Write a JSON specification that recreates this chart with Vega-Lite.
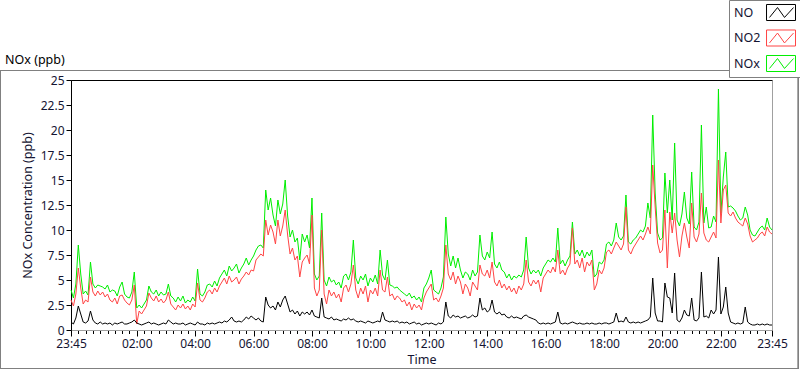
{
"$schema":"https://vega.github.io/schema/vega-lite/v6.json",
"width":701,"height":250,
"autosize":{"type":"none"},
"padding":{"left":71,"top":80,"right":29,"bottom":39},
"background":"white",
"config":{"font":"Noto Sans","view":{"stroke":"black","strokeWidth":1}},
"title":{"text":"NOx (ppb)","anchor":"start","frame":"group","orient":"top","dx":-66,"offset":-67,"fontSize":12.5,"fontWeight":"normal","color":"black"},
"data":{"values":[
{"t":"2024-01-01T23:45","NO":0.8,"NO2":3.0,"NOx":4.0},
{"t":"2024-01-01T23:50","NO":0.6,"NO2":2.4,"NOx":3.2},
{"t":"2024-01-01T23:55","NO":1.2,"NO2":3.6,"NOx":4.6},
{"t":"2024-01-02T00:00","NO":2.4,"NO2":6.2,"NOx":8.5},
{"t":"2024-01-02T00:05","NO":1.6,"NO2":4.2,"NOx":5.6},
{"t":"2024-01-02T00:10","NO":0.8,"NO2":2.6,"NOx":3.6},
{"t":"2024-01-02T00:15","NO":0.7,"NO2":3.0,"NOx":3.9},
{"t":"2024-01-02T00:20","NO":0.9,"NO2":2.8,"NOx":3.5},
{"t":"2024-01-02T00:25","NO":1.9,"NO2":5.3,"NOx":6.8},
{"t":"2024-01-02T00:30","NO":1.0,"NO2":3.8,"NOx":4.6},
{"t":"2024-01-02T00:35","NO":0.7,"NO2":3.4,"NOx":4.2},
{"t":"2024-01-02T00:40","NO":0.6,"NO2":3.9,"NOx":4.5},
{"t":"2024-01-02T00:45","NO":0.8,"NO2":3.5,"NOx":4.4},
{"t":"2024-01-02T00:50","NO":0.6,"NO2":3.8,"NOx":4.3},
{"t":"2024-01-02T00:55","NO":0.7,"NO2":3.3,"NOx":4.1},
{"t":"2024-01-02T01:00","NO":0.6,"NO2":3.6,"NOx":4.5},
{"t":"2024-01-02T01:05","NO":0.7,"NO2":3.0,"NOx":3.8},
{"t":"2024-01-02T01:10","NO":0.5,"NO2":2.8,"NOx":4.0},
{"t":"2024-01-02T01:15","NO":0.7,"NO2":3.2,"NOx":3.9},
{"t":"2024-01-02T01:20","NO":0.6,"NO2":2.6,"NOx":3.4},
{"t":"2024-01-02T01:25","NO":0.7,"NO2":3.4,"NOx":4.3},
{"t":"2024-01-02T01:30","NO":0.8,"NO2":3.5,"NOx":4.8},
{"t":"2024-01-02T01:35","NO":0.6,"NO2":3.0,"NOx":3.6},
{"t":"2024-01-02T01:40","NO":0.6,"NO2":2.7,"NOx":3.3},
{"t":"2024-01-02T01:45","NO":0.7,"NO2":2.5,"NOx":3.2},
{"t":"2024-01-02T01:50","NO":0.8,"NO2":3.0,"NOx":3.8},
{"t":"2024-01-02T01:55","NO":1.0,"NO2":4.5,"NOx":5.8},
{"t":"2024-01-02T02:00","NO":0.7,"NO2":0.6,"NOx":2.2},
{"t":"2024-01-02T02:05","NO":0.6,"NO2":1.9,"NOx":2.5},
{"t":"2024-01-02T02:10","NO":0.5,"NO2":1.6,"NOx":2.2},
{"t":"2024-01-02T02:15","NO":0.6,"NO2":2.0,"NOx":2.6},
{"t":"2024-01-02T02:20","NO":0.7,"NO2":2.4,"NOx":3.0},
{"t":"2024-01-02T02:25","NO":0.8,"NO2":3.7,"NOx":4.4},
{"t":"2024-01-02T02:30","NO":0.6,"NO2":3.2,"NOx":3.8},
{"t":"2024-01-02T02:35","NO":0.7,"NO2":2.9,"NOx":3.6},
{"t":"2024-01-02T02:40","NO":0.6,"NO2":3.4,"NOx":4.0},
{"t":"2024-01-02T02:45","NO":0.5,"NO2":2.8,"NOx":3.4},
{"t":"2024-01-02T02:50","NO":0.6,"NO2":3.1,"NOx":3.8},
{"t":"2024-01-02T02:55","NO":0.7,"NO2":2.7,"NOx":3.5},
{"t":"2024-01-02T03:00","NO":0.6,"NO2":3.0,"NOx":3.6},
{"t":"2024-01-02T03:05","NO":1.0,"NO2":3.8,"NOx":4.6},
{"t":"2024-01-02T03:10","NO":0.8,"NO2":2.6,"NOx":3.4},
{"t":"2024-01-02T03:15","NO":0.6,"NO2":2.3,"NOx":3.2},
{"t":"2024-01-02T03:20","NO":0.7,"NO2":2.0,"NOx":2.8},
{"t":"2024-01-02T03:25","NO":0.6,"NO2":2.5,"NOx":3.3},
{"t":"2024-01-02T03:30","NO":0.6,"NO2":2.2,"NOx":2.9},
{"t":"2024-01-02T03:35","NO":0.7,"NO2":2.6,"NOx":3.4},
{"t":"2024-01-02T03:40","NO":0.5,"NO2":2.1,"NOx":2.7},
{"t":"2024-01-02T03:45","NO":0.6,"NO2":2.4,"NOx":3.0},
{"t":"2024-01-02T03:50","NO":0.7,"NO2":2.0,"NOx":2.8},
{"t":"2024-01-02T03:55","NO":0.6,"NO2":2.6,"NOx":3.3},
{"t":"2024-01-02T04:00","NO":0.5,"NO2":2.3,"NOx":2.9},
{"t":"2024-01-02T04:05","NO":0.8,"NO2":4.7,"NOx":6.1},
{"t":"2024-01-02T04:10","NO":0.6,"NO2":3.0,"NOx":3.6},
{"t":"2024-01-02T04:15","NO":0.6,"NO2":2.8,"NOx":3.4},
{"t":"2024-01-02T04:20","NO":0.5,"NO2":3.2,"NOx":3.8},
{"t":"2024-01-02T04:25","NO":0.7,"NO2":3.8,"NOx":4.5},
{"t":"2024-01-02T04:30","NO":0.6,"NO2":4.0,"NOx":4.6},
{"t":"2024-01-02T04:35","NO":0.7,"NO2":3.6,"NOx":4.3},
{"t":"2024-01-02T04:40","NO":0.6,"NO2":4.2,"NOx":4.9},
{"t":"2024-01-02T04:45","NO":0.7,"NO2":3.8,"NOx":4.4},
{"t":"2024-01-02T04:50","NO":0.8,"NO2":4.4,"NOx":5.2},
{"t":"2024-01-02T04:55","NO":0.7,"NO2":4.8,"NOx":5.6},
{"t":"2024-01-02T05:00","NO":0.9,"NO2":5.2,"NOx":6.0},
{"t":"2024-01-02T05:05","NO":0.8,"NO2":4.6,"NOx":5.4},
{"t":"2024-01-02T05:10","NO":1.0,"NO2":5.4,"NOx":6.4},
{"t":"2024-01-02T05:15","NO":1.3,"NO2":4.8,"NOx":5.9},
{"t":"2024-01-02T05:20","NO":0.9,"NO2":5.0,"NOx":6.2},
{"t":"2024-01-02T05:25","NO":0.8,"NO2":5.3,"NOx":6.6},
{"t":"2024-01-02T05:30","NO":0.9,"NO2":4.6,"NOx":5.7},
{"t":"2024-01-02T05:35","NO":0.8,"NO2":5.1,"NOx":6.2},
{"t":"2024-01-02T05:40","NO":1.0,"NO2":5.4,"NOx":6.6},
{"t":"2024-01-02T05:45","NO":1.3,"NO2":5.8,"NOx":7.2},
{"t":"2024-01-02T05:50","NO":1.1,"NO2":5.5,"NOx":6.5},
{"t":"2024-01-02T05:55","NO":1.4,"NO2":6.0,"NOx":7.0},
{"t":"2024-01-02T06:00","NO":1.2,"NO2":5.9,"NOx":7.4},
{"t":"2024-01-02T06:05","NO":1.0,"NO2":7.0,"NOx":8.0},
{"t":"2024-01-02T06:10","NO":1.2,"NO2":7.3,"NOx":8.4},
{"t":"2024-01-02T06:15","NO":0.9,"NO2":7.6,"NOx":8.5},
{"t":"2024-01-02T06:20","NO":0.8,"NO2":7.4,"NOx":8.2},
{"t":"2024-01-02T06:25","NO":3.3,"NO2":11.0,"NOx":14.0},
{"t":"2024-01-02T06:30","NO":2.5,"NO2":9.5,"NOx":12.0},
{"t":"2024-01-02T06:35","NO":2.2,"NO2":10.5,"NOx":13.2},
{"t":"2024-01-02T06:40","NO":2.4,"NO2":9.8,"NOx":11.5},
{"t":"2024-01-02T06:45","NO":2.0,"NO2":8.6,"NOx":10.4},
{"t":"2024-01-02T06:50","NO":2.8,"NO2":11.0,"NOx":13.0},
{"t":"2024-01-02T06:55","NO":2.3,"NO2":9.4,"NOx":11.6},
{"t":"2024-01-02T07:00","NO":3.0,"NO2":10.4,"NOx":12.6},
{"t":"2024-01-02T07:05","NO":3.4,"NO2":12.0,"NOx":15.0},
{"t":"2024-01-02T07:10","NO":2.6,"NO2":9.5,"NOx":11.4},
{"t":"2024-01-02T07:15","NO":1.8,"NO2":7.6,"NOx":9.3},
{"t":"2024-01-02T07:20","NO":2.0,"NO2":8.2,"NOx":10.0},
{"t":"2024-01-02T07:25","NO":1.6,"NO2":7.0,"NOx":8.8},
{"t":"2024-01-02T07:30","NO":1.9,"NO2":7.4,"NOx":9.2},
{"t":"2024-01-02T07:35","NO":1.4,"NO2":5.3,"NOx":7.0},
{"t":"2024-01-02T07:40","NO":1.8,"NO2":6.8,"NOx":9.6},
{"t":"2024-01-02T07:45","NO":1.6,"NO2":7.2,"NOx":8.8},
{"t":"2024-01-02T07:50","NO":1.8,"NO2":7.5,"NOx":9.5},
{"t":"2024-01-02T07:55","NO":1.5,"NO2":6.6,"NOx":8.2},
{"t":"2024-01-02T08:00","NO":2.0,"NO2":11.5,"NOx":13.2},
{"t":"2024-01-02T08:05","NO":1.4,"NO2":4.2,"NOx":5.6},
{"t":"2024-01-02T08:10","NO":1.3,"NO2":3.4,"NOx":5.0},
{"t":"2024-01-02T08:15","NO":1.2,"NO2":4.0,"NOx":5.4},
{"t":"2024-01-02T08:20","NO":3.2,"NO2":10.0,"NOx":11.7},
{"t":"2024-01-02T08:25","NO":1.3,"NO2":3.6,"NOx":5.0},
{"t":"2024-01-02T08:30","NO":1.2,"NO2":2.6,"NOx":4.4},
{"t":"2024-01-02T08:35","NO":1.1,"NO2":4.0,"NOx":5.3},
{"t":"2024-01-02T08:40","NO":1.3,"NO2":3.4,"NOx":4.8},
{"t":"2024-01-02T08:45","NO":1.0,"NO2":3.8,"NOx":5.0},
{"t":"2024-01-02T08:50","NO":1.1,"NO2":3.2,"NOx":4.5},
{"t":"2024-01-02T08:55","NO":1.0,"NO2":3.6,"NOx":4.8},
{"t":"2024-01-02T09:00","NO":0.9,"NO2":2.8,"NOx":4.2},
{"t":"2024-01-02T09:05","NO":1.1,"NO2":4.2,"NOx":5.4},
{"t":"2024-01-02T09:10","NO":1.0,"NO2":4.5,"NOx":5.6},
{"t":"2024-01-02T09:15","NO":1.2,"NO2":3.8,"NOx":5.0},
{"t":"2024-01-02T09:20","NO":1.0,"NO2":4.6,"NOx":5.8},
{"t":"2024-01-02T09:25","NO":1.1,"NO2":6.5,"NOx":9.0},
{"t":"2024-01-02T09:30","NO":0.9,"NO2":4.0,"NOx":5.2},
{"t":"2024-01-02T09:35","NO":0.8,"NO2":3.2,"NOx":4.6},
{"t":"2024-01-02T09:40","NO":0.9,"NO2":4.2,"NOx":5.4},
{"t":"2024-01-02T09:45","NO":0.8,"NO2":3.6,"NOx":5.0},
{"t":"2024-01-02T09:50","NO":0.7,"NO2":4.4,"NOx":5.6},
{"t":"2024-01-02T09:55","NO":0.9,"NO2":2.8,"NOx":4.4},
{"t":"2024-01-02T10:00","NO":0.8,"NO2":4.0,"NOx":5.2},
{"t":"2024-01-02T10:05","NO":0.7,"NO2":3.6,"NOx":4.8},
{"t":"2024-01-02T10:10","NO":0.8,"NO2":4.2,"NOx":5.5},
{"t":"2024-01-02T10:15","NO":0.9,"NO2":3.4,"NOx":4.6},
{"t":"2024-01-02T10:20","NO":0.8,"NO2":6.0,"NOx":8.0},
{"t":"2024-01-02T10:25","NO":1.8,"NO2":4.0,"NOx":5.5},
{"t":"2024-01-02T10:30","NO":1.0,"NO2":3.8,"NOx":5.0},
{"t":"2024-01-02T10:35","NO":0.9,"NO2":5.3,"NOx":7.0},
{"t":"2024-01-02T10:40","NO":0.8,"NO2":3.4,"NOx":4.5},
{"t":"2024-01-02T10:45","NO":0.9,"NO2":3.6,"NOx":4.4},
{"t":"2024-01-02T10:50","NO":0.8,"NO2":3.0,"NOx":4.2},
{"t":"2024-01-02T10:55","NO":0.9,"NO2":3.4,"NOx":4.3},
{"t":"2024-01-02T11:00","NO":0.7,"NO2":3.2,"NOx":4.0},
{"t":"2024-01-02T11:05","NO":0.8,"NO2":2.8,"NOx":3.8},
{"t":"2024-01-02T11:10","NO":0.7,"NO2":3.0,"NOx":3.6},
{"t":"2024-01-02T11:15","NO":0.8,"NO2":2.4,"NOx":3.4},
{"t":"2024-01-02T11:20","NO":0.6,"NO2":2.8,"NOx":3.7},
{"t":"2024-01-02T11:25","NO":0.7,"NO2":2.0,"NOx":3.2},
{"t":"2024-01-02T11:30","NO":0.8,"NO2":2.6,"NOx":3.4},
{"t":"2024-01-02T11:35","NO":0.6,"NO2":2.2,"NOx":3.0},
{"t":"2024-01-02T11:40","NO":0.7,"NO2":2.5,"NOx":3.3},
{"t":"2024-01-02T11:45","NO":0.5,"NO2":2.0,"NOx":2.8},
{"t":"2024-01-02T11:50","NO":0.6,"NO2":3.2,"NOx":4.2},
{"t":"2024-01-02T11:55","NO":0.7,"NO2":3.8,"NOx":4.6},
{"t":"2024-01-02T12:00","NO":0.6,"NO2":4.2,"NOx":5.2},
{"t":"2024-01-02T12:05","NO":0.7,"NO2":4.6,"NOx":6.0},
{"t":"2024-01-02T12:10","NO":0.6,"NO2":3.0,"NOx":4.0},
{"t":"2024-01-02T12:15","NO":0.5,"NO2":3.2,"NOx":3.8},
{"t":"2024-01-02T12:20","NO":0.7,"NO2":2.8,"NOx":3.6},
{"t":"2024-01-02T12:25","NO":0.6,"NO2":3.4,"NOx":4.2},
{"t":"2024-01-02T12:30","NO":0.8,"NO2":4.2,"NOx":5.3},
{"t":"2024-01-02T12:35","NO":2.8,"NO2":8.5,"NOx":11.3},
{"t":"2024-01-02T12:40","NO":1.4,"NO2":5.6,"NOx":7.6},
{"t":"2024-01-02T12:45","NO":1.2,"NO2":5.0,"NOx":6.4},
{"t":"2024-01-02T12:50","NO":1.5,"NO2":5.8,"NOx":7.4},
{"t":"2024-01-02T12:55","NO":1.3,"NO2":4.6,"NOx":6.2},
{"t":"2024-01-02T13:00","NO":1.4,"NO2":5.4,"NOx":7.2},
{"t":"2024-01-02T13:05","NO":1.2,"NO2":4.8,"NOx":6.0},
{"t":"2024-01-02T13:10","NO":1.3,"NO2":3.6,"NOx":5.2},
{"t":"2024-01-02T13:15","NO":1.4,"NO2":4.6,"NOx":5.8},
{"t":"2024-01-02T13:20","NO":1.2,"NO2":4.2,"NOx":5.6},
{"t":"2024-01-02T13:25","NO":1.3,"NO2":3.4,"NOx":5.0},
{"t":"2024-01-02T13:30","NO":1.5,"NO2":4.8,"NOx":6.0},
{"t":"2024-01-02T13:35","NO":1.3,"NO2":4.4,"NOx":5.4},
{"t":"2024-01-02T13:40","NO":1.4,"NO2":4.0,"NOx":5.8},
{"t":"2024-01-02T13:45","NO":3.2,"NO2":6.5,"NOx":9.5},
{"t":"2024-01-02T13:50","NO":2.0,"NO2":5.6,"NOx":7.4},
{"t":"2024-01-02T13:55","NO":2.2,"NO2":5.4,"NOx":7.0},
{"t":"2024-01-02T14:00","NO":1.8,"NO2":6.0,"NOx":7.8},
{"t":"2024-01-02T14:05","NO":2.0,"NO2":5.2,"NOx":7.2},
{"t":"2024-01-02T14:10","NO":3.0,"NO2":6.8,"NOx":9.8},
{"t":"2024-01-02T14:15","NO":1.8,"NO2":4.8,"NOx":6.6},
{"t":"2024-01-02T14:20","NO":1.6,"NO2":4.4,"NOx":6.2},
{"t":"2024-01-02T14:25","NO":1.8,"NO2":5.0,"NOx":6.8},
{"t":"2024-01-02T14:30","NO":1.5,"NO2":4.2,"NOx":6.0},
{"t":"2024-01-02T14:35","NO":1.6,"NO2":4.6,"NOx":5.8},
{"t":"2024-01-02T14:40","NO":1.3,"NO2":4.0,"NOx":5.2},
{"t":"2024-01-02T14:45","NO":1.2,"NO2":4.4,"NOx":5.6},
{"t":"2024-01-02T14:50","NO":1.4,"NO2":3.8,"NOx":5.0},
{"t":"2024-01-02T14:55","NO":1.2,"NO2":4.2,"NOx":5.4},
{"t":"2024-01-02T15:00","NO":1.3,"NO2":3.6,"NOx":5.2},
{"t":"2024-01-02T15:05","NO":1.2,"NO2":4.4,"NOx":5.5},
{"t":"2024-01-02T15:10","NO":1.1,"NO2":4.0,"NOx":5.3},
{"t":"2024-01-02T15:15","NO":1.4,"NO2":4.6,"NOx":6.0},
{"t":"2024-01-02T15:20","NO":1.5,"NO2":7.0,"NOx":9.3},
{"t":"2024-01-02T15:25","NO":1.3,"NO2":4.8,"NOx":6.2},
{"t":"2024-01-02T15:30","NO":1.2,"NO2":4.4,"NOx":5.6},
{"t":"2024-01-02T15:35","NO":1.1,"NO2":5.0,"NOx":6.0},
{"t":"2024-01-02T15:40","NO":1.0,"NO2":4.6,"NOx":5.7},
{"t":"2024-01-02T15:45","NO":0.7,"NO2":5.0,"NOx":6.0},
{"t":"2024-01-02T15:50","NO":0.6,"NO2":3.8,"NOx":5.4},
{"t":"2024-01-02T15:55","NO":0.7,"NO2":5.2,"NOx":6.2},
{"t":"2024-01-02T16:00","NO":0.6,"NO2":5.6,"NOx":6.6},
{"t":"2024-01-02T16:05","NO":0.7,"NO2":6.0,"NOx":7.0},
{"t":"2024-01-02T16:10","NO":0.6,"NO2":5.7,"NOx":6.8},
{"t":"2024-01-02T16:15","NO":0.7,"NO2":6.3,"NOx":7.2},
{"t":"2024-01-02T16:20","NO":0.8,"NO2":5.8,"NOx":6.8},
{"t":"2024-01-02T16:25","NO":1.8,"NO2":8.0,"NOx":10.2},
{"t":"2024-01-02T16:30","NO":0.7,"NO2":5.6,"NOx":6.6},
{"t":"2024-01-02T16:35","NO":0.6,"NO2":6.0,"NOx":7.0},
{"t":"2024-01-02T16:40","NO":0.7,"NO2":5.5,"NOx":6.4},
{"t":"2024-01-02T16:45","NO":0.6,"NO2":6.2,"NOx":7.0},
{"t":"2024-01-02T16:50","NO":0.7,"NO2":6.6,"NOx":7.4},
{"t":"2024-01-02T16:55","NO":0.8,"NO2":10.2,"NOx":10.8},
{"t":"2024-01-02T17:00","NO":0.7,"NO2":6.6,"NOx":7.6},
{"t":"2024-01-02T17:05","NO":0.6,"NO2":7.0,"NOx":8.0},
{"t":"2024-01-02T17:10","NO":0.7,"NO2":6.2,"NOx":7.4},
{"t":"2024-01-02T17:15","NO":0.6,"NO2":7.2,"NOx":8.0},
{"t":"2024-01-02T17:20","NO":0.6,"NO2":5.8,"NOx":7.2},
{"t":"2024-01-02T17:25","NO":0.7,"NO2":6.8,"NOx":7.8},
{"t":"2024-01-02T17:30","NO":0.6,"NO2":6.4,"NOx":7.4},
{"t":"2024-01-02T17:35","NO":0.7,"NO2":7.0,"NOx":8.0},
{"t":"2024-01-02T17:40","NO":0.6,"NO2":4.0,"NOx":5.3},
{"t":"2024-01-02T17:45","NO":0.6,"NO2":4.6,"NOx":5.6},
{"t":"2024-01-02T17:50","NO":0.7,"NO2":6.0,"NOx":6.8},
{"t":"2024-01-02T17:55","NO":0.6,"NO2":5.6,"NOx":6.6},
{"t":"2024-01-02T18:00","NO":0.7,"NO2":6.2,"NOx":7.0},
{"t":"2024-01-02T18:05","NO":0.7,"NO2":7.8,"NOx":8.6},
{"t":"2024-01-02T18:10","NO":0.6,"NO2":8.0,"NOx":8.8},
{"t":"2024-01-02T18:15","NO":0.7,"NO2":7.6,"NOx":8.4},
{"t":"2024-01-02T18:20","NO":0.8,"NO2":8.2,"NOx":9.0},
{"t":"2024-01-02T18:25","NO":1.7,"NO2":8.8,"NOx":10.7},
{"t":"2024-01-02T18:30","NO":0.8,"NO2":8.4,"NOx":9.3},
{"t":"2024-01-02T18:35","NO":0.9,"NO2":8.0,"NOx":9.0},
{"t":"2024-01-02T18:40","NO":0.8,"NO2":8.6,"NOx":9.4},
{"t":"2024-01-02T18:45","NO":1.3,"NO2":12.3,"NOx":13.5},
{"t":"2024-01-02T18:50","NO":0.8,"NO2":8.0,"NOx":8.8},
{"t":"2024-01-02T18:55","NO":0.7,"NO2":7.6,"NOx":8.6},
{"t":"2024-01-02T19:00","NO":0.8,"NO2":8.2,"NOx":9.0},
{"t":"2024-01-02T19:05","NO":0.7,"NO2":8.6,"NOx":9.2},
{"t":"2024-01-02T19:10","NO":0.8,"NO2":9.0,"NOx":9.6},
{"t":"2024-01-02T19:15","NO":0.7,"NO2":9.4,"NOx":10.0},
{"t":"2024-01-02T19:20","NO":0.8,"NO2":9.0,"NOx":9.8},
{"t":"2024-01-02T19:25","NO":0.9,"NO2":9.6,"NOx":10.4},
{"t":"2024-01-02T19:30","NO":1.0,"NO2":10.3,"NOx":12.7},
{"t":"2024-01-02T19:35","NO":1.3,"NO2":9.6,"NOx":11.2},
{"t":"2024-01-02T19:40","NO":5.2,"NO2":16.5,"NOx":21.5},
{"t":"2024-01-02T19:45","NO":1.7,"NO2":12.3,"NOx":13.7},
{"t":"2024-01-02T19:50","NO":0.9,"NO2":8.7,"NOx":9.7},
{"t":"2024-01-02T19:55","NO":0.9,"NO2":7.7,"NOx":9.0},
{"t":"2024-01-02T20:00","NO":0.8,"NO2":8.0,"NOx":9.2},
{"t":"2024-01-02T20:05","NO":4.7,"NO2":12.0,"NOx":15.7},
{"t":"2024-01-02T20:10","NO":3.3,"NO2":6.2,"NOx":11.7},
{"t":"2024-01-02T20:15","NO":3.2,"NO2":11.8,"NOx":15.0},
{"t":"2024-01-02T20:20","NO":1.7,"NO2":9.7,"NOx":11.0},
{"t":"2024-01-02T20:25","NO":5.7,"NO2":11.7,"NOx":18.7},
{"t":"2024-01-02T20:30","NO":1.0,"NO2":9.0,"NOx":11.0},
{"t":"2024-01-02T20:35","NO":0.8,"NO2":7.3,"NOx":10.4},
{"t":"2024-01-02T20:40","NO":1.2,"NO2":9.4,"NOx":11.6},
{"t":"2024-01-02T20:45","NO":2.0,"NO2":10.7,"NOx":13.8},
{"t":"2024-01-02T20:50","NO":1.5,"NO2":9.3,"NOx":11.2},
{"t":"2024-01-02T20:55","NO":1.4,"NO2":8.2,"NOx":10.6},
{"t":"2024-01-02T21:00","NO":3.2,"NO2":12.7,"NOx":15.8},
{"t":"2024-01-02T21:05","NO":1.0,"NO2":9.3,"NOx":10.3},
{"t":"2024-01-02T21:10","NO":0.9,"NO2":8.8,"NOx":10.0},
{"t":"2024-01-02T21:15","NO":1.2,"NO2":9.6,"NOx":10.8},
{"t":"2024-01-02T21:20","NO":5.8,"NO2":13.7,"NOx":20.5},
{"t":"2024-01-02T21:25","NO":1.3,"NO2":9.7,"NOx":10.7},
{"t":"2024-01-02T21:30","NO":1.4,"NO2":9.0,"NOx":12.3},
{"t":"2024-01-02T21:35","NO":1.2,"NO2":8.8,"NOx":10.2},
{"t":"2024-01-02T21:40","NO":2.0,"NO2":9.3,"NOx":10.3},
{"t":"2024-01-02T21:45","NO":1.6,"NO2":9.8,"NOx":11.4},
{"t":"2024-01-02T21:50","NO":2.0,"NO2":9.2,"NOx":10.8},
{"t":"2024-01-02T21:55","NO":7.3,"NO2":17.0,"NOx":24.1},
{"t":"2024-01-02T22:00","NO":1.6,"NO2":10.7,"NOx":11.7},
{"t":"2024-01-02T22:05","NO":2.3,"NO2":14.0,"NOx":15.3},
{"t":"2024-01-02T22:10","NO":4.3,"NO2":14.5,"NOx":17.8},
{"t":"2024-01-02T22:15","NO":1.7,"NO2":11.7,"NOx":12.3},
{"t":"2024-01-02T22:20","NO":0.8,"NO2":11.4,"NOx":12.4},
{"t":"2024-01-02T22:25","NO":0.7,"NO2":11.8,"NOx":12.2},
{"t":"2024-01-02T22:30","NO":0.6,"NO2":11.2,"NOx":11.9},
{"t":"2024-01-02T22:35","NO":0.7,"NO2":10.8,"NOx":11.4},
{"t":"2024-01-02T22:40","NO":0.6,"NO2":10.6,"NOx":11.0},
{"t":"2024-01-02T22:45","NO":0.7,"NO2":10.4,"NOx":11.2},
{"t":"2024-01-02T22:50","NO":2.3,"NO2":11.2,"NOx":12.3},
{"t":"2024-01-02T22:55","NO":0.8,"NO2":10.6,"NOx":11.5},
{"t":"2024-01-02T23:00","NO":0.6,"NO2":9.4,"NOx":10.0},
{"t":"2024-01-02T23:05","NO":0.5,"NO2":8.8,"NOx":9.5},
{"t":"2024-01-02T23:10","NO":0.5,"NO2":9.0,"NOx":9.4},
{"t":"2024-01-02T23:15","NO":0.6,"NO2":9.2,"NOx":9.8},
{"t":"2024-01-02T23:20","NO":0.5,"NO2":9.6,"NOx":10.2},
{"t":"2024-01-02T23:25","NO":0.6,"NO2":9.8,"NOx":10.4},
{"t":"2024-01-02T23:30","NO":0.5,"NO2":9.4,"NOx":10.0},
{"t":"2024-01-02T23:35","NO":0.6,"NO2":10.3,"NOx":11.2},
{"t":"2024-01-02T23:40","NO":0.5,"NO2":9.8,"NOx":10.3},
{"t":"2024-01-02T23:45","NO":0.5,"NO2":9.6,"NOx":10.0}
]},
"layer":[
 {"mark":{"type":"rect","filled":false,"stroke":"#808080","strokeWidth":1},
  "encoding":{
   "x":{"datum":{"year":2024,"month":1,"date":1,"hours":21,"minutes":20,"seconds":10},"type":"temporal",
    "scale":{"domain":[{"year":2024,"month":1,"date":1,"hours":23,"minutes":45},{"year":2024,"month":1,"date":2,"hours":23,"minutes":45}]},
    "axis":{"orient":"bottom","title":null,"labels":false,"domain":false,"grid":false,"tickColor":"black","tickSize":3.5,
     "values":[{"year":2024,"month":1,"date":1,"hours":23,"minutes":45},
{"year":2024,"month":1,"date":2,"hours":0,"minutes":0},{"year":2024,"month":1,"date":2,"hours":0,"minutes":15},{"year":2024,"month":1,"date":2,"hours":0,"minutes":30},{"year":2024,"month":1,"date":2,"hours":0,"minutes":45},
{"year":2024,"month":1,"date":2,"hours":1,"minutes":0},{"year":2024,"month":1,"date":2,"hours":1,"minutes":15},{"year":2024,"month":1,"date":2,"hours":1,"minutes":30},{"year":2024,"month":1,"date":2,"hours":1,"minutes":45},
{"year":2024,"month":1,"date":2,"hours":2,"minutes":0},{"year":2024,"month":1,"date":2,"hours":2,"minutes":15},{"year":2024,"month":1,"date":2,"hours":2,"minutes":30},{"year":2024,"month":1,"date":2,"hours":2,"minutes":45},
{"year":2024,"month":1,"date":2,"hours":3,"minutes":0},{"year":2024,"month":1,"date":2,"hours":3,"minutes":15},{"year":2024,"month":1,"date":2,"hours":3,"minutes":30},{"year":2024,"month":1,"date":2,"hours":3,"minutes":45},
{"year":2024,"month":1,"date":2,"hours":4,"minutes":0},{"year":2024,"month":1,"date":2,"hours":4,"minutes":15},{"year":2024,"month":1,"date":2,"hours":4,"minutes":30},{"year":2024,"month":1,"date":2,"hours":4,"minutes":45},
{"year":2024,"month":1,"date":2,"hours":5,"minutes":0},{"year":2024,"month":1,"date":2,"hours":5,"minutes":15},{"year":2024,"month":1,"date":2,"hours":5,"minutes":30},{"year":2024,"month":1,"date":2,"hours":5,"minutes":45},
{"year":2024,"month":1,"date":2,"hours":6,"minutes":0},{"year":2024,"month":1,"date":2,"hours":6,"minutes":15},{"year":2024,"month":1,"date":2,"hours":6,"minutes":30},{"year":2024,"month":1,"date":2,"hours":6,"minutes":45},
{"year":2024,"month":1,"date":2,"hours":7,"minutes":0},{"year":2024,"month":1,"date":2,"hours":7,"minutes":15},{"year":2024,"month":1,"date":2,"hours":7,"minutes":30},{"year":2024,"month":1,"date":2,"hours":7,"minutes":45},
{"year":2024,"month":1,"date":2,"hours":8,"minutes":0},{"year":2024,"month":1,"date":2,"hours":8,"minutes":15},{"year":2024,"month":1,"date":2,"hours":8,"minutes":30},{"year":2024,"month":1,"date":2,"hours":8,"minutes":45},
{"year":2024,"month":1,"date":2,"hours":9,"minutes":0},{"year":2024,"month":1,"date":2,"hours":9,"minutes":15},{"year":2024,"month":1,"date":2,"hours":9,"minutes":30},{"year":2024,"month":1,"date":2,"hours":9,"minutes":45},
{"year":2024,"month":1,"date":2,"hours":10,"minutes":0},{"year":2024,"month":1,"date":2,"hours":10,"minutes":15},{"year":2024,"month":1,"date":2,"hours":10,"minutes":30},{"year":2024,"month":1,"date":2,"hours":10,"minutes":45},
{"year":2024,"month":1,"date":2,"hours":11,"minutes":0},{"year":2024,"month":1,"date":2,"hours":11,"minutes":15},{"year":2024,"month":1,"date":2,"hours":11,"minutes":30},{"year":2024,"month":1,"date":2,"hours":11,"minutes":45},
{"year":2024,"month":1,"date":2,"hours":12,"minutes":0},{"year":2024,"month":1,"date":2,"hours":12,"minutes":15},{"year":2024,"month":1,"date":2,"hours":12,"minutes":30},{"year":2024,"month":1,"date":2,"hours":12,"minutes":45},
{"year":2024,"month":1,"date":2,"hours":13,"minutes":0},{"year":2024,"month":1,"date":2,"hours":13,"minutes":15},{"year":2024,"month":1,"date":2,"hours":13,"minutes":30},{"year":2024,"month":1,"date":2,"hours":13,"minutes":45},
{"year":2024,"month":1,"date":2,"hours":14,"minutes":0},{"year":2024,"month":1,"date":2,"hours":14,"minutes":15},{"year":2024,"month":1,"date":2,"hours":14,"minutes":30},{"year":2024,"month":1,"date":2,"hours":14,"minutes":45},
{"year":2024,"month":1,"date":2,"hours":15,"minutes":0},{"year":2024,"month":1,"date":2,"hours":15,"minutes":15},{"year":2024,"month":1,"date":2,"hours":15,"minutes":30},{"year":2024,"month":1,"date":2,"hours":15,"minutes":45},
{"year":2024,"month":1,"date":2,"hours":16,"minutes":0},{"year":2024,"month":1,"date":2,"hours":16,"minutes":15},{"year":2024,"month":1,"date":2,"hours":16,"minutes":30},{"year":2024,"month":1,"date":2,"hours":16,"minutes":45},
{"year":2024,"month":1,"date":2,"hours":17,"minutes":0},{"year":2024,"month":1,"date":2,"hours":17,"minutes":15},{"year":2024,"month":1,"date":2,"hours":17,"minutes":30},{"year":2024,"month":1,"date":2,"hours":17,"minutes":45},
{"year":2024,"month":1,"date":2,"hours":18,"minutes":0},{"year":2024,"month":1,"date":2,"hours":18,"minutes":15},{"year":2024,"month":1,"date":2,"hours":18,"minutes":30},{"year":2024,"month":1,"date":2,"hours":18,"minutes":45},
{"year":2024,"month":1,"date":2,"hours":19,"minutes":0},{"year":2024,"month":1,"date":2,"hours":19,"minutes":15},{"year":2024,"month":1,"date":2,"hours":19,"minutes":30},{"year":2024,"month":1,"date":2,"hours":19,"minutes":45},
{"year":2024,"month":1,"date":2,"hours":20,"minutes":0},{"year":2024,"month":1,"date":2,"hours":20,"minutes":15},{"year":2024,"month":1,"date":2,"hours":20,"minutes":30},{"year":2024,"month":1,"date":2,"hours":20,"minutes":45},
{"year":2024,"month":1,"date":2,"hours":21,"minutes":0},{"year":2024,"month":1,"date":2,"hours":21,"minutes":15},{"year":2024,"month":1,"date":2,"hours":21,"minutes":30},{"year":2024,"month":1,"date":2,"hours":21,"minutes":45},
{"year":2024,"month":1,"date":2,"hours":22,"minutes":0},{"year":2024,"month":1,"date":2,"hours":22,"minutes":15},{"year":2024,"month":1,"date":2,"hours":22,"minutes":30},{"year":2024,"month":1,"date":2,"hours":22,"minutes":45},
{"year":2024,"month":1,"date":2,"hours":23,"minutes":0},{"year":2024,"month":1,"date":2,"hours":23,"minutes":15},{"year":2024,"month":1,"date":2,"hours":23,"minutes":30},{"year":2024,"month":1,"date":2,"hours":23,"minutes":45}]}},
   "x2":{"datum":{"year":2024,"month":1,"date":3,"hours":0,"minutes":39,"seconds":25}},
   "y":{"datum":25.95,"type":"quantitative","scale":{"domain":[0,25]},
    "axis":{"orient":"right","title":null,"labels":false,"ticks":false,"grid":false,"domainColor":"#a0a0a0"}},
   "y2":{"datum":-3.85}}},
 {"mark":{"type":"line","strokeWidth":1},
  "encoding":{
   "x":{"field":"t","type":"temporal",
    "scale":{"domain":[{"year":2024,"month":1,"date":1,"hours":23,"minutes":45},{"year":2024,"month":1,"date":2,"hours":23,"minutes":45}]},
    "axis":{"orient":"bottom","title":"Time","titleFontSize":12.5,"titleFontWeight":"normal","titleColor":"#141432","titlePadding":4,
     "values":[{"year":2024,"month":1,"date":1,"hours":23,"minutes":45},{"year":2024,"month":1,"date":2,"hours":2},{"year":2024,"month":1,"date":2,"hours":4},{"year":2024,"month":1,"date":2,"hours":6},{"year":2024,"month":1,"date":2,"hours":8},{"year":2024,"month":1,"date":2,"hours":10},{"year":2024,"month":1,"date":2,"hours":12},{"year":2024,"month":1,"date":2,"hours":14},{"year":2024,"month":1,"date":2,"hours":16},{"year":2024,"month":1,"date":2,"hours":18},{"year":2024,"month":1,"date":2,"hours":20},{"year":2024,"month":1,"date":2,"hours":22},{"year":2024,"month":1,"date":2,"hours":23,"minutes":45}],
     "format":"%H:%M","labelOverlap":false,"labelFlush":false,"labelFontSize":12,"labelColor":"#141432","labelPadding":2,
     "tickColor":"black","tickSize":6,"domainColor":"#a0a0a0","grid":false}},
   "y":{"field":"NOx","type":"quantitative","scale":{"domain":[0,25]},
    "axis":{"orient":"left","title":"NOx Concentration (ppb)","titleFontSize":12.5,"titleFontWeight":"normal","titleColor":"#141432","titlePadding":6,
     "values":[0,2.5,5,7.5,10,12.5,15,17.5,20,22.5,25],"format":".1~f","labelFontSize":12,"labelColor":"#141432","labelPadding":2,
     "tickSize":5,"tickColor":"black","domainColor":"black","grid":false}},
   "color":{"datum":"NOx","type":"nominal",
    "scale":{"domain":["NO","NO2","NOx"],"range":["#000000","#ff4545","#00ee00"]},
    "legend":{"orient":"none","legendX":658,"legendY":-80,"title":null,
     "symbolType":"M2.78,-0.89L6,-0.89L6,0.89L2.78,0.89Z M3.11,0.55L4,-0.55L4.78,0.55L5.78,-0.55",
     "symbolSize":324,"symbolStrokeWidth":1,
     "labelAlign":"left","labelOffset":-17,"labelFontSize":12.5,"labelColor":"#141432",
     "strokeColor":"#808080","fillColor":"white","padding":3,"rowPadding":4.5}}}},
 {"mark":{"type":"line","strokeWidth":1},
  "encoding":{
   "x":{"field":"t","type":"temporal","scale":{"domain":[{"year":2024,"month":1,"date":1,"hours":23,"minutes":45},{"year":2024,"month":1,"date":2,"hours":23,"minutes":45}]},"axis":null},
   "y":{"field":"NO2","type":"quantitative","scale":{"domain":[0,25]},"axis":null},
   "color":{"datum":"NO2","type":"nominal"}}},
 {"mark":{"type":"line","strokeWidth":1},
  "encoding":{
   "x":{"field":"t","type":"temporal","scale":{"domain":[{"year":2024,"month":1,"date":1,"hours":23,"minutes":45},{"year":2024,"month":1,"date":2,"hours":23,"minutes":45}]},"axis":null},
   "y":{"field":"NO","type":"quantitative","scale":{"domain":[0,25]},"axis":null},
   "color":{"datum":"NO","type":"nominal"}}}
],
"resolve":{"axis":{"x":"independent","y":"independent"}}
}
